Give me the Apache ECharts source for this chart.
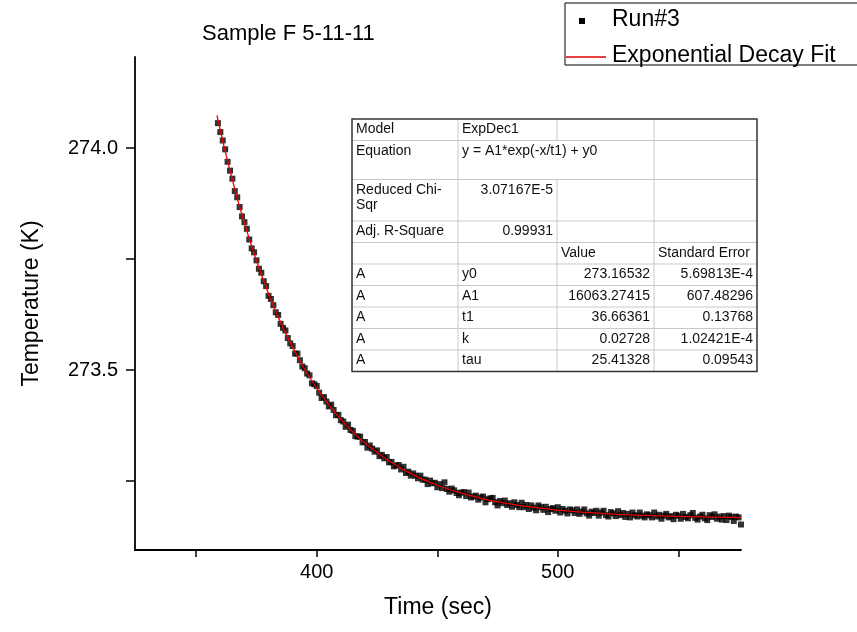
<!DOCTYPE html>
<html><head><meta charset="utf-8">
<script src="https://cdn.jsdelivr.net/npm/echarts@6/dist/echarts.min.js"></script>
<style>html,body{margin:0;padding:0;background:#fff}#c{width:857px;height:632px}</style>
</head><body><div id="c"></div>
<script>
// ---- data ----
const timeSec = [
359,360,361,362,363,364,365,366,367,368,
369,370,371,372,373,374,375,376,377,378,
379,380,381,382,383,384,385,386,387,388,
389,390,391,392,393,394,395,396,397,398,
399,400,401,402,403,404,405,406,407,408,
409,410,411,412,413,414,415,416,417,418,
419,420,421,422,423,424,425,426,427,428,
429,430,431,432,433,434,435,436,437,438,
439,440,441,442,443,444,445,446,447,448,
449,450,451,452,453,454,455,456,457,458,
459,460,461,462,463,464,465,466,467,468,
469,470,471,472,473,474,475,476,477,478,
479,480,481,482,483,484,485,486,487,488,
489,490,491,492,493,494,495,496,497,498,
499,500,501,502,503,504,505,506,507,508,
509,510,511,512,513,514,515,516,517,518,
519,520,521,522,523,524,525,526,527,528,
529,530,531,532,533,534,535,536,537,538,
539,540,541,542,543,544,545,546,547,548,
549,550,551,552,553,554,555,556,557,558,
559,560,561,562,563,564,565,566,567,568,
569,570,571,572,573,574,575,576];
const temperature = [
274.056,274.036,274.017,273.997,273.969,273.949,273.931,273.903,273.889,273.867,
273.846,273.833,273.818,273.794,273.774,273.765,273.747,273.728,273.719,273.700,
273.689,273.667,273.660,273.646,273.630,273.624,273.604,273.595,273.589,273.572,
273.560,273.554,273.537,273.537,273.522,273.508,273.504,273.492,273.488,273.470,
273.468,273.464,273.449,273.437,273.439,273.429,273.418,273.422,273.410,273.398,
273.399,273.387,273.384,273.372,273.377,273.365,273.363,273.351,273.350,273.350,
273.337,273.338,273.325,273.330,273.323,273.316,273.319,273.306,273.309,273.301,
273.304,273.292,273.293,273.283,273.285,273.286,273.276,273.282,273.268,273.271,
273.262,273.267,273.262,273.256,273.262,273.253,273.253,273.243,273.251,273.245,
273.246,273.236,273.243,273.234,273.247,273.232,273.226,273.233,273.229,273.223,
273.218,273.224,273.225,273.216,273.224,273.213,273.215,273.217,273.208,273.213,
273.215,273.202,273.209,273.211,273.212,273.202,273.195,273.205,273.200,273.206,
273.196,273.200,273.192,273.202,273.196,273.191,273.201,273.191,273.196,273.187,
273.195,273.190,273.184,273.195,273.191,273.185,273.192,273.180,273.187,273.189,
273.183,273.191,273.179,273.187,273.183,273.177,273.186,273.184,273.178,273.186,
273.176,273.181,273.186,273.177,273.172,273.181,273.178,273.183,273.172,273.179,
273.183,273.173,273.170,273.180,273.177,273.171,273.182,273.173,273.178,273.169,
273.176,273.168,273.179,273.173,273.170,273.179,273.172,273.168,273.175,273.173,
273.168,273.179,273.170,273.174,273.165,273.172,273.176,273.168,273.171,273.164,
273.174,273.172,273.165,273.176,273.169,273.166,273.173,273.178,273.167,273.163,
273.170,273.174,273.166,273.162,273.173,273.169,273.175,273.165,273.170,273.163,
273.171,273.162,273.172,273.169,273.160,273.170,273.168,273.152];
const fitTime = [358.6,362,366,370,375,380,385,390,395,400,405,410,415,420,430,440,450,460,470,480,490,500,510,520,530,540,550,560,570,576];
const fitTemp = [274.0733,273.9929,273.9074,273.8307,273.7459,273.6719,273.6073,273.5510,273.5018,273.4589,273.4215,273.3888,273.3603,273.3355,273.2949,273.2639,273.2404,273.2225,273.2088,273.1984,273.1905,273.1845,273.1799,273.1764,273.1738,273.1718,273.1702,273.1691,273.1681,273.1677];
const xTickValues = [350,400,450,500,550];
const xLabelValues = [400,500];
const yTickValues = [273.25,273.5,273.75,274.0];
const yLabelValues = [273.5,274.0];
const seriesNames = ['Run#3','Exponential Decay Fit'];
const tableCol0 = ['Model','Equation','Reduced Chi-\nSqr','Adj. R-Square','','A','A','A','A','A'];
const tableCol1 = ['ExpDec1','y = A1*exp(-x/t1) + y0','3.07167E-5','0.99931','','y0','A1','t1','k','tau'];
const tableCol2 = ['','','','','Value','273.16532','16063.27415','36.66361','0.02728','25.41328'];
const tableCol3 = ['','','','','Standard Error','5.69813E-4','607.48296','0.13768','1.02421E-4','0.09543'];

// ---- layout ----
const FONT = 'Liberation Sans, Arial, sans-serif';
const colX = [352, 458, 557, 654, 757];
const rowY = [119, 140.5, 179.5, 221, 242.5, 264, 285.5, 307, 328.5, 350, 371.5];

const graphics = [];
for (let r = 1; r < rowY.length - 1; r++) {
  graphics.push({type:'line', shape:{x1:colX[0], y1:rowY[r], x2:colX[4], y2:rowY[r]}, style:{stroke:'#c8c8c8', lineWidth:1}, z:10});
}
for (let c = 1; c < colX.length - 1; c++) {
  for (let r = 0; r < rowY.length - 1; r++) {
    if (c === 2 && r === 1) continue; // merged equation cell
    graphics.push({type:'line', shape:{x1:colX[c], y1:rowY[r], x2:colX[c], y2:rowY[r+1]}, style:{stroke:'#c8c8c8', lineWidth:1}, z:10});
  }
}
graphics.push({type:'rect', shape:{x:colX[0], y:rowY[0], width:colX[4]-colX[0], height:rowY[10]-rowY[0]}, style:{fill:'none', stroke:'#333', lineWidth:1.5}, z:11});
const cols = [tableCol0, tableCol1, tableCol2, tableCol3];
cols.forEach((col, c) => {
  col.forEach((txt, r) => {
    if (!txt) return;
    const right = (c === 1 && (r === 2 || r === 3)) || (c >= 2 && r >= 5);
    graphics.push({type:'text', x: right ? colX[c+1]-4 : colX[c]+4, y: rowY[r]+3, z:12,
      style:{text:txt, fill:'#111', font:'14px ' + FONT, textAlign: right ? 'right' : 'left', textVerticalAlign:'top', lineHeight:15}});
  });
});
// legend
graphics.push({type:'rect', shape:{x:565, y:3, width:300, height:62}, style:{fill:'#fff', stroke:'#000', lineWidth:1}, z:10});
graphics.push({type:'rect', shape:{x:579, y:18, width:6, height:6}, style:{fill:'#000'}, z:11});
graphics.push({type:'line', shape:{x1:566, y1:57, x2:606, y2:57}, style:{stroke:'#e00000', lineWidth:1.5}, z:11});
graphics.push({type:'text', x:612, y:20, z:11, style:{text:seriesNames[0], fill:'#000', font:'23px ' + FONT, textVerticalAlign:'middle'}});
graphics.push({type:'text', x:612, y:56, z:11, style:{text:seriesNames[1], fill:'#000', font:'23px ' + FONT, textVerticalAlign:'middle'}});

const chart = echarts.init(document.getElementById('c'), null, {renderer:'canvas'});
chart.setOption({
  animation:false,
  backgroundColor:'#fff',
  title:{text:'Sample F 5-11-11', left:197, top:18, textStyle:{fontFamily:FONT, fontSize:22, fontWeight:'normal', color:'#000'}},
  grid:{left:135, right:116, top:57, bottom:82, containLabel:false, outerBoundsMode:'none'},
  xAxis:{type:'value', min:324.6, max:576,
    name:'Time (sec)', nameLocation:'middle', nameGap:46,
    nameTextStyle:{fontFamily:FONT, fontSize:23, color:'#000'},
    axisLine:{show:true, onZero:false, lineStyle:{color:'#000', width:1.8}},
    axisTick:{show:true, inside:false, length:7, customValues:xTickValues, lineStyle:{color:'#000', width:1.5}},
    axisLabel:{show:true, margin:12, customValues:xLabelValues, fontFamily:FONT, fontSize:20, color:'#000', formatter:v=>String(v)},
    splitLine:{show:false}},
  yAxis:{type:'value', min:273.0946, max:274.205,
    name:'Temperature (K)', nameLocation:'middle', nameGap:92,
    nameTextStyle:{fontFamily:FONT, fontSize:23, color:'#000'},
    axisLine:{show:true, onZero:false, lineStyle:{color:'#000', width:1.8}},
    axisTick:{show:true, inside:false, length:9, customValues:yTickValues, lineStyle:{color:'#000', width:1.5}},
    axisLabel:{show:true, margin:17, customValues:yLabelValues, fontFamily:FONT, fontSize:20, color:'#000', formatter:v=>v.toFixed(1)},
    splitLine:{show:false}},
  series:[
    {name:seriesNames[0], type:'scatter', symbol:'rect', symbolSize:6, itemStyle:{color:'#000'},
     data: timeSec.map((t,i)=>[t, temperature[i]]), z:2},
    {name:seriesNames[1], type:'line', showSymbol:false, smooth:0.3, lineStyle:{color:'#ee0000', width:1.3},
     data: fitTime.map((t,i)=>[t, fitTemp[i]]), z:3}
  ],
  graphic: graphics
});
</script>
</body></html>
